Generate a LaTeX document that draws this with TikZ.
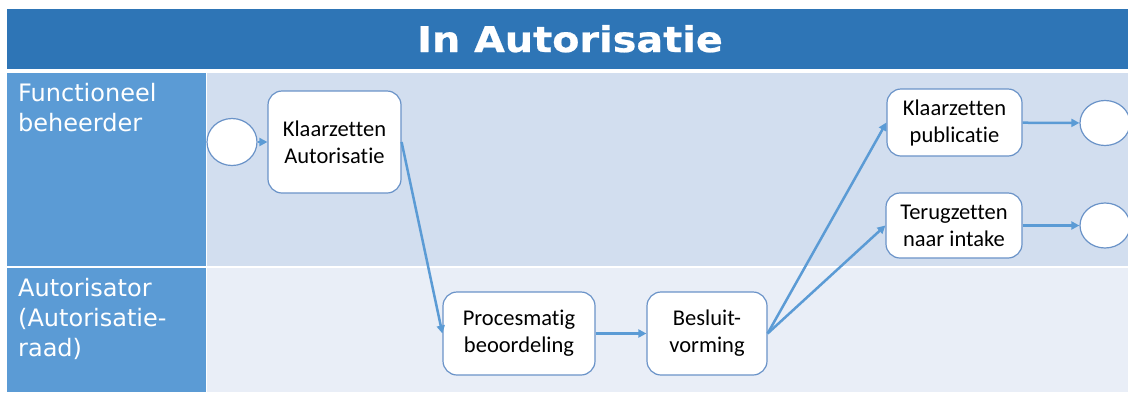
\documentclass[tikz,border=0pt]{standalone}
\usepackage{fontspec}
\setmainfont[Ligatures={NoCommon,NoContextual}]{Carlito}
\newfontfamily\lanefont{DejaVu Sans}
\newfontfamily\titlefont[FakeStretch=1.12,FakeBold=0.6]{DejaVu Sans}
\usetikzlibrary{arrows.meta,shapes.geometric}
\definecolor{titleblue}{HTML}{2E75B6}
\definecolor{headblue}{HTML}{5B9BD5}
\definecolor{laneone}{HTML}{D2DEEF}
\definecolor{lanetwo}{HTML}{E9EEF7}
\definecolor{boxline}{HTML}{6A93C8}
\definecolor{arrowblue}{HTML}{5B9BD5}
\tikzset{
  taskbox/.style={draw=boxline, line width=1.2, fill=white, rounded corners=14,
    align=center, inner sep=0, font=\fontsize{22.5}{27}\selectfont},
  eventcirc/.style={draw=boxline, line width=1.2, fill=white, ellipse, inner sep=0},
  flow/.style={draw=arrowblue, line width=2.5, -{Triangle[length=8,width=8]}},
  lanelabel/.style={anchor=north west, inner sep=0, align=left, text=white,
    font=\lanefont\fontsize{24}{30}\selectfont},
}
\begin{document}
\begin{tikzpicture}[x=1pt,y=-1pt]
\useasboundingbox (0,0) rectangle (1128,392);
% title band
\fill[titleblue] (7,9) rectangle (1128,69);
\node[text=white, font=\titlefont\bfseries\fontsize{35.5}{40}\selectfont, anchor=base] (title) at (570,52) {In Autorisatie};
% lanes
\fill[headblue] (7,73) rectangle (206,266);
\fill[laneone] (207,73) rectangle (1128,266);
\fill[headblue] (7,268) rectangle (206,392);
\fill[lanetwo] (207,268) rectangle (1128,392);
\node[lanelabel] (l1) at (18,83) {Functioneel\\beheerder};
\node[lanelabel] (l2) at (18,278) {Autorisator\\(Autorisatie-\\raad)};
% events
\node[eventcirc, minimum width=50, minimum height=47] (start) at (232,142) {};
\node[eventcirc, minimum width=50, minimum height=45] (end1) at (1105,123) {};
\node[eventcirc, minimum width=50, minimum height=45] (end2) at (1105,225.5) {};
% tasks
\node[taskbox, minimum width=133, minimum height=102] (ka) at (334.5,142) {Klaarzetten\\Autorisatie};
\node[taskbox, minimum width=152, minimum height=83] (pb) at (519,333.5) {Procesmatig\\beoordeling};
\node[taskbox, minimum width=120, minimum height=83] (bv) at (707,333.5) {Besluit-\\vorming};
\node[taskbox, minimum width=135, minimum height=67] (kp) at (954.5,122.5) {Klaarzetten\\publicatie};
\node[taskbox, minimum width=136, minimum height=65] (tn) at (954,225.5) {Terugzetten\\naar intake};
% flows
\draw[flow] (start) -- (ka);
\draw[flow] (ka.east) -- (pb.west);
\draw[flow] (pb) -- (bv);
\draw[flow] (bv.east) -- (kp.west);
\draw[flow] (bv.east) -- (tn.west);
\draw[flow] (kp) -- (end1);
\draw[flow] (tn) -- (end2);
\end{tikzpicture}
\end{document}
